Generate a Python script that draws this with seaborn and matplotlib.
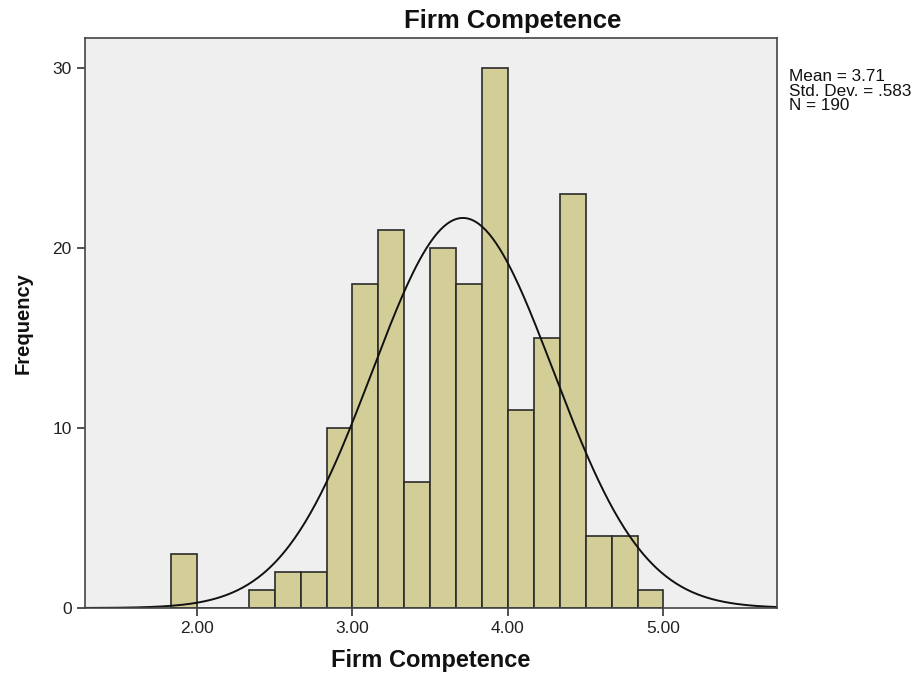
import numpy as np
import pandas as pd
import matplotlib
matplotlib.use("Agg")
import matplotlib.pyplot as plt
import seaborn as sns

# Histogram bins (width 1/6) and frequencies
bin_edges = [11/6, 2.0, 13/6, 14/6, 2.5, 16/6, 17/6, 3.0, 19/6, 20/6, 3.5,
             22/6, 23/6, 4.0, 25/6, 26/6, 4.5, 28/6, 29/6, 5.0]
counts = [3, 0, 0, 1, 2, 2, 10, 18, 21, 7, 20, 18, 30, 11, 15, 23, 4, 4, 1]

mean_val = 3.71
std_val = 0.583
n_obs = 190

x_ticks = [2.0, 3.0, 4.0, 5.0]
x_tick_labels = ["2.00", "3.00", "4.00", "5.00"]
y_ticks = [0, 10, 20, 30]

sns.set_theme(style="white")
plt.rcParams["font.family"] = ["Liberation Sans", "DejaVu Sans"]

edges = np.array(bin_edges)
centers = (edges[:-1] + edges[1:]) / 2
df = pd.DataFrame({"value": centers, "freq": counts})

fig = plt.figure(figsize=(9.24, 6.78), dpi=100)
ax = fig.add_axes([85/924, 1 - 608/678, (777-85)/924, (608-38)/678])
ax.set_facecolor("#EFEFEF")

sns.histplot(data=df, x="value", weights="freq", bins=list(bin_edges), ax=ax,
             color="#D3CE97", alpha=1.0, edgecolor="#2b2b2b", linewidth=1.2)

# Fitted normal curve scaled to counts
xmin, xmax = 1.28, 5.73
xs = np.linspace(xmin, xmax, 400)
bw = edges[1] - edges[0]
ys = n_obs * bw * np.exp(-0.5 * ((xs - mean_val) / std_val) ** 2) / (std_val * np.sqrt(2 * np.pi))
sns.lineplot(x=xs, y=ys, ax=ax, color="#111111", linewidth=1.4)

ax.set_xlim(xmin, xmax)
ax.set_ylim(0, 570/18)
ax.set_xticks(x_ticks)
ax.set_xticklabels(x_tick_labels)
ax.set_yticks(y_ticks)
ax.tick_params(axis="both", direction="out", length=6, width=1.2, color="#333333",
               labelsize=12.5, labelcolor="#222222", bottom=True, left=True)

for s in ax.spines.values():
    s.set_color("#444444")
    s.set_linewidth(1.2)

ax.set_xlabel("Firm Competence", fontsize=17, fontweight="bold", labelpad=9,
              color="#111111")
ax.set_ylabel("Frequency", fontsize=14.5, fontweight="bold", labelpad=14,
              color="#111111")
fig.text(513/924, 1 - 21/678, "Firm Competence", fontsize=18.5, fontweight="bold",
         ha="center", va="center", color="#111111")

fig.text(789/924, 1 - 91/678,
         f"Mean = {mean_val:.2f}\nStd. Dev. = {str(std_val)[1:]}\nN = {n_obs}",
         fontsize=12.3, va="center", ha="left", linespacing=0.95, color="#111111")

fig.savefig("out.png", dpi=100)
